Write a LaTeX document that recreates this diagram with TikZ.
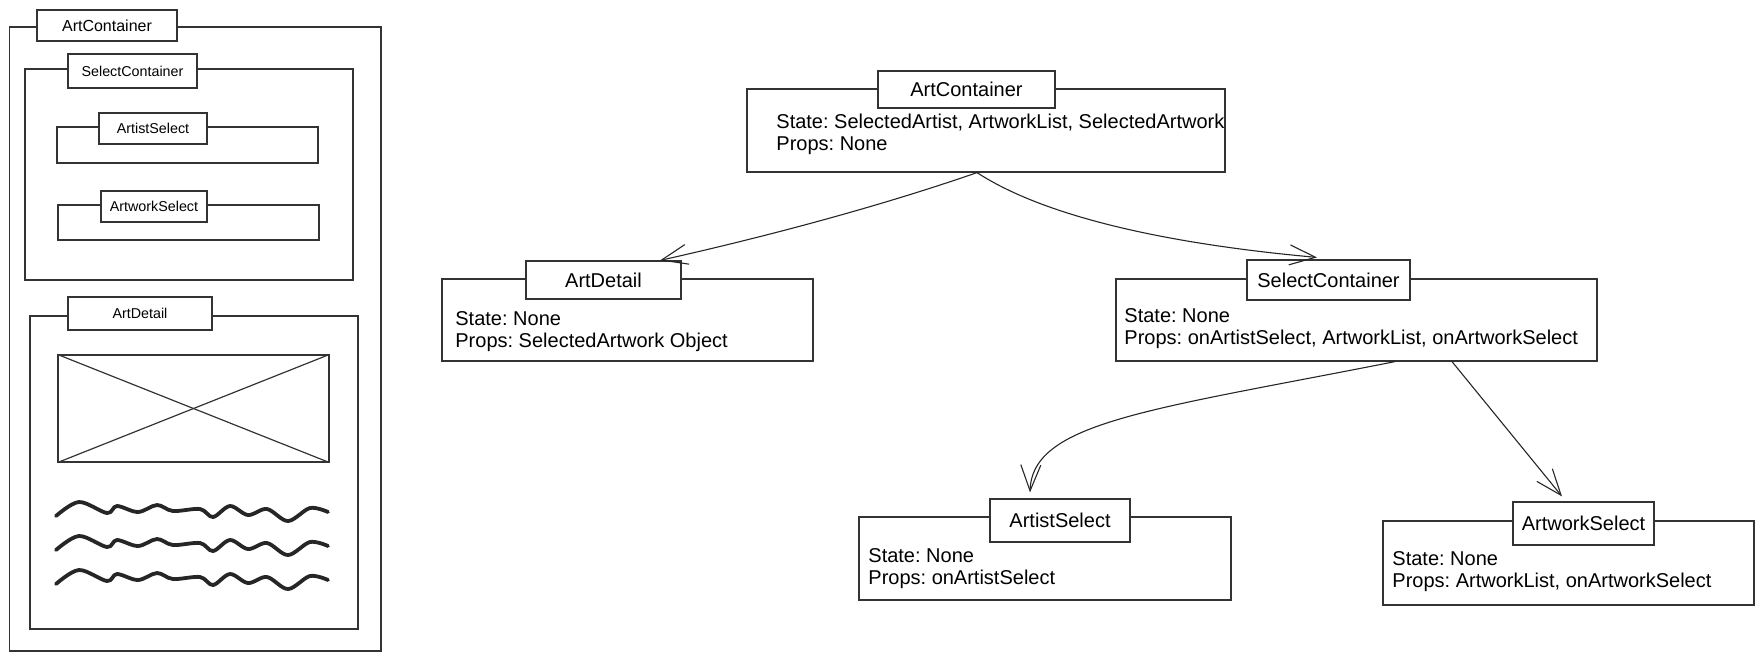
\documentclass[tikz,border=0pt]{standalone}
\usepackage{fontspec}
\setmainfont{Liberation Sans}
\usetikzlibrary{arrows.meta,fit}
\frenchspacing
\begin{document}
\begin{tikzpicture}[x=0.5pt,y=-0.5pt,
  ln/.style={draw=black!80, line width=0.6pt},
  box/.style={ln, rectangle, inner sep=0pt},
  lbl/.style={box, fill=white},
  big/.style={font=\fontsize{10}{12}\selectfont, inner sep=0pt},
  small/.style={font=\fontsize{7.15}{8}\selectfont, inner sep=0pt},
  body/.style={anchor=west, align=left, inner sep=0pt, font=\fontsize{10}{11}\selectfont},
  conn/.style={draw=black!85, line width=0.55pt, -{Straight Barb[length=13pt,width=10pt]}},
  wave/.style={draw=black!85, line width=1.9pt, line cap=round, line join=round}
]
\frenchspacing
\useasboundingbox (0,0) rectangle (1764,661);

% ---------- left wireframe ----------
\node[box, fit={(9.5,27) (381,651)}] (lac) {};
\node[box, fit={(25,69) (353,280)}] (lsc) {};
\node[box, fit={(57,127) (318,163)}] (las) {};
\node[box, fit={(58,205) (319,240)}] (law) {};
\node[box, fit={(30,316) (358,629)}] (lad) {};
\node[lbl, fit={(37,10) (177,41)}, label={[small, font=\fontsize{8}{9}\selectfont]center:ArtContainer}] (lacl) {};
\node[lbl, fit={(68,54) (197,88)}, label={[small]center:SelectContainer}] (lscl) {};
\node[lbl, fit={(99,113) (207,144)}, label={[small]center:ArtistSelect}] (lasl) {};
\node[lbl, fit={(101,191) (207,222)}, label={[small]center:ArtworkSelect}] (lawl) {};
\node[lbl, fit={(68,297) (212,330)}, label={[small]center:ArtDetail}] (ladl) {};
\node[box, fit={(58,355) (329,462)}] (img) {};
\draw[ln] (img.north west) -- (img.south east);
\draw[ln] (img.south west) -- (img.north east);
\foreach \dy in {0,34,68}{
  \draw[wave, shift={(0,\dy)}] plot[smooth, tension=0.55] coordinates {
    (56,516) (79,502) (107,513) (117,506) (138,512) (157,505) (173,511)
    (200,509) (213,517) (230,506) (248,515) (267,509) (288,521) (310,508) (328,512)};
}

% ---------- right tree ----------
\node[box, fit={(747,89) (1225,172)}] (ac) {};
\node[lbl, fit={(878,71) (1055,108)}, label={[big]center:ArtContainer}] (acl) {};
\node[body] (act) at (776,134) {State: SelectedArtist, ArtworkList, SelectedArtwork\\Props: None};

\node[box, fit={(442,279) (813,361)}] (ad) {};
\node[lbl, fit={(526,261) (681,299)}, label={[big]center:ArtDetail}] (adl) {};
\node[body] (adt) at (455,332) {State: None\\Props: SelectedArtwork Object};

\node[box, fit={(1116,279) (1597,361)}] (sc) {};
\node[lbl, fit={(1247,260) (1410,300)}, label={[big]center:SelectContainer}] (scl) {};
\node[body] (sct) at (1124,329) {State: None\\Props: onArtistSelect, ArtworkList, onArtworkSelect};

\node[box, fit={(859,517) (1231,600)}] (as) {};
\node[lbl, fit={(990,499) (1130,542)}, label={[big]center:ArtistSelect}] (asl) {};
\node[body] (ast) at (868,568.5) {State: None\\Props: onArtistSelect};

\node[box, fit={(1383,521) (1754,605)}] (aw) {};
\node[lbl, fit={(1513,502) (1654,545)}, label={[big]center:ArtworkSelect}] (awl) {};
\node[body] (awt) at (1392,571.5) {State: None\\Props: ArtworkList, onArtworkSelect};

% connectors
\draw[conn] ([xshift=-4.5pt]ac.south) .. controls (875,208) and (760,238) .. ([xshift=28.25pt]adl.north);
\draw[conn] ([xshift=-4.5pt]ac.south) .. controls (1050,220) and (1180,245) .. ([xshift=-5.75pt,yshift=1pt]scl.north);
\draw[conn] ([xshift=19.25pt]sc.south) .. controls (1150,410) and (1032,422) .. ([xshift=-15pt,yshift=3pt]asl.north);
\draw[conn] ([xshift=47.75pt]sc.south) -- ([xshift=-10.75pt,yshift=2.5pt]awl.north);
\end{tikzpicture}
\end{document}
